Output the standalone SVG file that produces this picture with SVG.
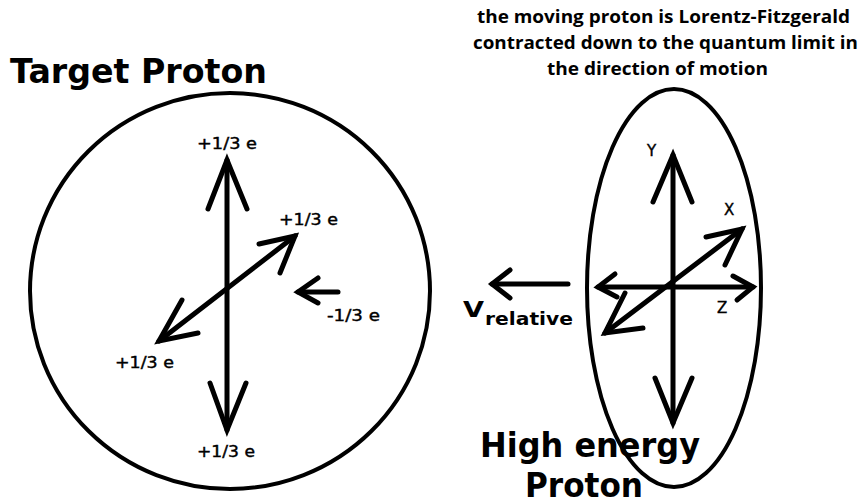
<svg xmlns="http://www.w3.org/2000/svg" width="864" height="504" viewBox="0 0 864 504">
<style>
.ln{stroke:#000;stroke-width:5;fill:none;stroke-linecap:round;stroke-linejoin:round}
.hd{stroke:#000;stroke-width:5;fill:none;stroke-linecap:round;stroke-linejoin:miter}
.sh{stroke:#000;stroke-width:4;fill:none}
.big{font-family:"DejaVu Sans",sans-serif;font-weight:bold;font-size:34px;fill:#000}
.lab{font-family:"DejaVu Sans",sans-serif;font-size:15px;fill:#000;stroke:#000;stroke-width:0.4}
.cap{font-family:"Open Sans","DejaVu Sans",sans-serif;font-weight:bold;font-size:18px;fill:#000}
</style>
<rect width="864" height="504" fill="#fff"/>
<g id="target-proton">
<ellipse class="sh" cx="230" cy="291" rx="200" ry="198"/>
<text class="big" x="10" y="83" textLength="257" lengthAdjust="spacingAndGlyphs">Target Proton</text>
</g>
<g id="high-energy-proton">
<ellipse class="sh" cx="674" cy="288" rx="87" ry="199"/>
<text class="big" x="480" y="457" textLength="220" lengthAdjust="spacingAndGlyphs">High energy</text>
<text class="big" x="525" y="497" textLength="118" lengthAdjust="spacingAndGlyphs">Proton</text>
</g>
<g id="caption">
<text class="cap" x="477" y="23" textLength="373" lengthAdjust="spacingAndGlyphs">the moving proton is Lorentz-Fitzgerald</text>
<text class="cap" x="473" y="49" textLength="385" lengthAdjust="spacingAndGlyphs">contracted down to the quantum limit in</text>
<text class="cap" x="547" y="75" textLength="221" lengthAdjust="spacingAndGlyphs">the direction of motion</text>
</g>
<g id="labels">
<text class="lab" x="197" y="149" textLength="60" lengthAdjust="spacingAndGlyphs">+1/3 e</text>
<text class="lab" x="279" y="225" textLength="59" lengthAdjust="spacingAndGlyphs">+1/3 e</text>
<text class="lab" x="327" y="321" textLength="53" lengthAdjust="spacingAndGlyphs">-1/3 e</text>
<text class="lab" x="115" y="368" textLength="59" lengthAdjust="spacingAndGlyphs">+1/3 e</text>
<text class="lab" x="197" y="457" textLength="58" lengthAdjust="spacingAndGlyphs">+1/3 e</text>
<text class="lab" x="647" y="156" font-size="16">Y</text>
<text class="lab" x="724" y="215">X</text>
<text class="lab" x="717" y="313">Z</text>
<text x="463" y="317" font-family="DejaVu Sans,sans-serif" font-weight="bold" font-size="22" textLength="21" lengthAdjust="spacingAndGlyphs">V</text>
<text x="485" y="325" font-family="DejaVu Sans,sans-serif" font-weight="bold" font-size="17" textLength="88" lengthAdjust="spacingAndGlyphs">relative</text>
</g>
<g id="connectors">
<line class="ln" x1="227" y1="160" x2="227" y2="430"/>
<polyline class="hd" points="208,209 227,160 247,209"/>
<polyline class="hd" points="210,383 227,430 246,383"/>
<line class="ln" x1="159" y1="341" x2="295" y2="236"/>
<polyline class="hd" points="259,244 295,236 280,273"/>
<polyline class="hd" points="182,300 159,341 198,333"/>
<line class="ln" x1="338" y1="292" x2="298" y2="292"/>
<polyline class="hd" points="318,278 298,292 318,303"/>
<line class="ln" x1="673" y1="155" x2="673" y2="423"/>
<polyline class="hd" points="653,202 673,155 692,202"/>
<polyline class="hd" points="655,378 673,423 692,378"/>
<line class="ln" x1="598" y1="287" x2="753" y2="287"/>
<polyline class="hd" points="615,274 598,287 617,297"/>
<polyline class="hd" points="733,276 753,287 737,300"/>
<line class="ln" x1="605" y1="333" x2="742" y2="229"/>
<polyline class="hd" points="706,237 742,229 725,265"/>
<polyline class="hd" points="625,293 605,333 643,328"/>
<line class="ln" x1="568" y1="284" x2="492" y2="284"/>
<polyline class="hd" points="510,270 492,284 510,298"/>
</g>
</svg>
